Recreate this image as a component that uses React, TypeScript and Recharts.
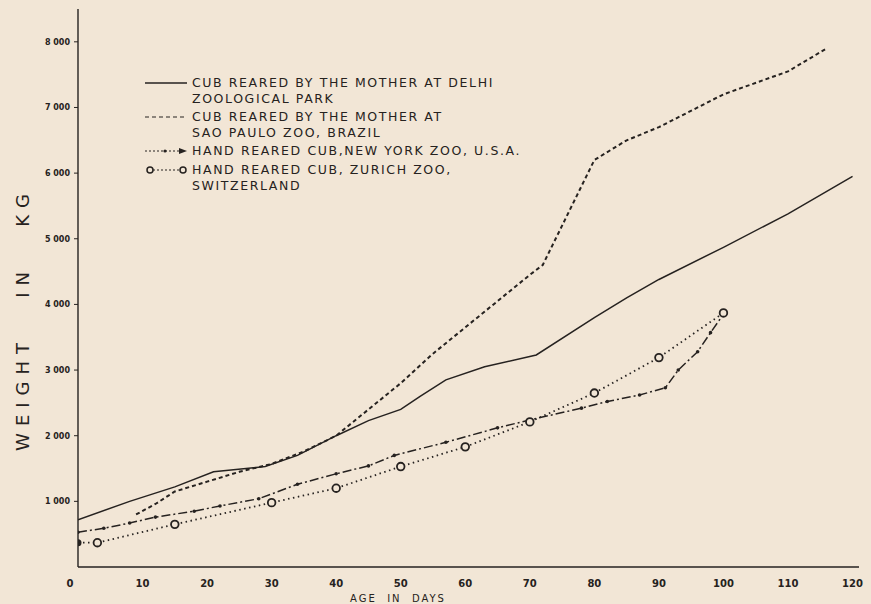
import React from "react";
import { LineChart, Line, XAxis, YAxis } from "recharts";

// Day / weight (kg) readings for each cub
const delhiDays = [0, 8, 15, 21, 29, 34, 40, 45, 50, 53, 57, 63, 71, 80, 85, 90, 100, 110, 120];
const delhiKg = [720, 1000, 1220, 1450, 1530, 1700, 2000, 2230, 2400, 2600, 2850, 3050, 3230, 3800, 4100, 4380, 4870, 5380, 5950];

const saoPauloDays = [9, 12, 15, 20, 25, 30, 35, 40, 45, 50, 55, 60, 65, 70, 72, 76, 80, 85, 90, 100, 110, 116];
const saoPauloKg = [800, 960, 1150, 1300, 1450, 1570, 1760, 2000, 2400, 2800, 3250, 3650, 4050, 4450, 4600, 5400, 6200, 6500, 6700, 7200, 7550, 7900];

const newYorkDays = [0, 4, 8, 12, 18, 22, 28, 34, 40, 45, 49, 57, 65, 70, 78, 82, 87, 91, 93, 96, 98, 100];
const newYorkKg = [530, 590, 670, 760, 850, 930, 1040, 1260, 1420, 1540, 1700, 1900, 2120, 2240, 2420, 2520, 2620, 2730, 3000, 3280, 3570, 3850];

const zurichDays = [0, 3, 15, 30, 40, 50, 60, 70, 80, 90, 100];
const zurichKg = [370, 370, 650, 980, 1200, 1530, 1830, 2210, 2650, 3190, 3870];

const xTicks = [0, 10, 20, 30, 40, 50, 60, 70, 80, 90, 100, 110, 120];
const yTicks = [1000, 2000, 3000, 4000, 5000, 6000, 7000, 8000];

const INK = "#262220";
const PAPER = "#f2e6d6";
const FONT = "'DejaVu Sans', sans-serif";

const toPoints = (days: number[], kg: number[]) => days.map((d, i) => ({ day: d, kg: kg[i] }));

const delhi = toPoints(delhiDays, delhiKg);
const saoPaulo = toPoints(saoPauloDays, saoPauloKg);
const newYork = toPoints(newYorkDays, newYorkKg);
const zurich = toPoints(zurichDays, zurichKg);

const fmtKg = (v: number) => `${Math.floor(v / 1000)} 000`;

function XTick(props: any) {
  const { x, y, payload } = props;
  const shift = payload.value === 0 ? -8 : 0;
  return (
    <text x={x + shift} y={y + 12} textAnchor="middle" fontSize={10} fontWeight="bold" fill={INK} fontFamily={FONT}>
      {payload.value}
    </text>
  );
}

function YTick(props: any) {
  const { x, y, payload } = props;
  return (
    <text x={x - 2} y={y + 3} textAnchor="end" fontSize={8} fontWeight="bold" fill={INK} fontFamily={FONT}>
      {fmtKg(payload.value)}
    </text>
  );
}

function ZurichDot(props: any) {
  const { cx, cy, index } = props;
  if (index === 0) return <circle key={index} cx={cx} cy={cy} r={3.5} fill={INK} />;
  return <circle key={index} cx={cx} cy={cy} r={3.8} fill={PAPER} stroke={INK} strokeWidth={1.8} />;
}

function NyDot(props: any) {
  const { cx, cy, index } = props;
  return <circle key={index} cx={cx} cy={cy} r={1.8} fill={INK} />;
}

const legendRows = [
  { lines: ["CUB REARED BY THE MOTHER AT DELHI", "ZOOLOGICAL PARK"], kind: "solid", top: 75 },
  { lines: ["CUB REARED BY THE MOTHER AT", "SAO PAULO ZOO, BRAZIL"], kind: "dash", top: 109 },
  { lines: ["HAND REARED CUB,NEW YORK ZOO, U.S.A."], kind: "ny", top: 143 },
  { lines: ["HAND REARED CUB, ZURICH ZOO,", "SWITZERLAND"], kind: "zurich", top: 162 },
];

function LegendSymbol({ kind }: { kind: string }) {
  return (
    <svg width={46} height={10} style={{ position: "absolute", left: 0, top: 3 }}>
      {kind === "solid" && <line x1={2} x2={44} y1={5} y2={5} stroke={INK} strokeWidth={1.6} />}
      {kind === "dash" && <line x1={2} x2={44} y1={5} y2={5} stroke={INK} strokeWidth={1.2} strokeDasharray="4 3" />}
      {kind === "ny" && (
        <g>
          <line x1={2} x2={40} y1={5} y2={5} stroke={INK} strokeWidth={1} strokeDasharray="2 2" />
          <circle cx={22} cy={5} r={1.6} fill={INK} />
          <path d="M36 2 L44 5 L36 8 Z" fill={INK} />
        </g>
      )}
      {kind === "zurich" && (
        <g>
          <line x1={10} x2={36} y1={5} y2={5} stroke={INK} strokeWidth={1} strokeDasharray="2 2" />
          <circle cx={7} cy={5} r={3} fill="none" stroke={INK} strokeWidth={1.5} />
          <circle cx={40} cy={5} r={3} fill="none" stroke={INK} strokeWidth={1.5} />
        </g>
      )}
    </svg>
  );
}

export default function App() {
  return (
    <div style={{ position: "relative", width: 871, height: 604, background: PAPER, overflow: "hidden" }}>
      <style>{`body{margin:0}`}</style>
      <LineChart width={871} height={604} data={delhi} margin={{ top: 9, right: 12, left: 8, bottom: 0 }}>
        <XAxis
          dataKey="day"
          type="number"
          domain={[0, 121]}
          ticks={xTicks}
          interval={0}
          tick={<XTick />}
          tickLine={false}
          height={37}
          axisLine={{ stroke: INK, strokeWidth: 1.6 }}
          allowDataOverflow
        />
        <YAxis
          type="number"
          domain={[0, 8500]}
          ticks={yTicks}
          interval={0}
          tick={<YTick />}
          tickSize={4}
          tickLine={{ stroke: INK, strokeWidth: 1 }}
          width={70}
          axisLine={{ stroke: INK, strokeWidth: 1.4 }}
        />
        <Line data={delhi} dataKey="kg" type="linear" stroke={INK} strokeWidth={1.5} dot={false} isAnimationActive={false} />
        <Line
          data={saoPaulo}
          dataKey="kg"
          type="linear"
          stroke={INK}
          strokeWidth={2}
          strokeDasharray="4 3"
          dot={false}
          isAnimationActive={false}
        />
        <Line
          data={newYork}
          dataKey="kg"
          type="linear"
          stroke={INK}
          strokeWidth={1.5}
          strokeDasharray="9 3 2 3"
          dot={<NyDot />}
          isAnimationActive={false}
        />
        <Line
          data={zurich}
          dataKey="kg"
          type="linear"
          stroke={INK}
          strokeWidth={1.8}
          strokeDasharray="1.5 3.5"
          dot={<ZurichDot />}
          isAnimationActive={false}
        />
      </LineChart>

      {/* legend */}
      <div style={{ position: "absolute", left: 143, top: 0, fontFamily: FONT, color: INK }}>
        {legendRows.map((row, i) => (
          <div key={i} style={{ position: "absolute", top: row.top, left: 0, width: 440 }}>
            <LegendSymbol kind={row.kind} />
            {row.lines.map((ln, j) => (
              <div
                key={j}
                style={{ marginLeft: 49, fontSize: 12.5, lineHeight: "16px", letterSpacing: 1.6, whiteSpace: "nowrap" }}
              >
                {ln}
              </div>
            ))}
          </div>
        ))}
      </div>

      {/* axis titles */}
      <div
        style={{
          position: "absolute",
          left: 22,
          top: 319,
          transform: "translate(-50%, -50%) rotate(-90deg)",
          fontFamily: FONT,
          fontSize: 18,
          letterSpacing: 7,
          whiteSpace: "pre",
          color: INK,
        }}
      >
        {"WEIGHT   IN   KG"}
      </div>
      <div
        style={{
          position: "absolute",
          left: 398,
          top: 598,
          transform: "translate(-50%, -50%)",
          fontFamily: FONT,
          fontSize: 10,
          letterSpacing: 2,
          whiteSpace: "pre",
          color: INK,
        }}
      >
        {"AGE  IN  DAYS"}
      </div>
    </div>
  );
}
